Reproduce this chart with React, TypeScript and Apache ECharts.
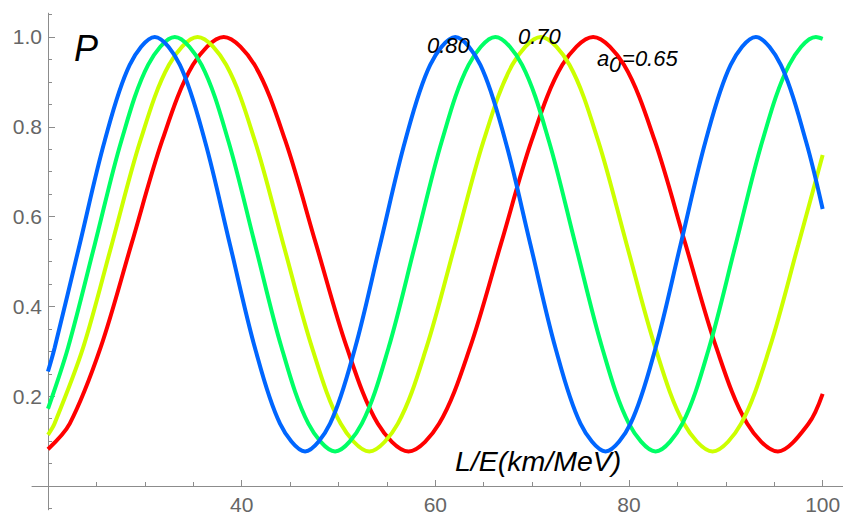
import React, { useEffect, useRef } from "react";
import * as echarts from "echarts";

// Curves at the ends (L/E = 20 and 100) and at evenly
// spaced points of each curve's own oscillation (peaks, troughs and between).

// a0 = 0.65 (red)
const xA065 = [
  20, 22.25, 25.43, 28.61, 31.79, 34.97, 38.15, 41.33, 44.51, 47.69, 50.87, 54.05,
  57.23, 60.4, 63.58, 66.76, 69.94, 73.12, 76.3, 79.48, 82.66, 85.84, 89.02, 92.2,
  95.38, 98.55, 100,
];
const pA065 = [
  0.082, 0.139, 0.308, 0.538, 0.769, 0.938, 1.0, 0.938, 0.769, 0.538, 0.308, 0.139,
  0.077, 0.139, 0.308, 0.538, 0.769, 0.938, 1.0, 0.938, 0.769, 0.538, 0.308, 0.139,
  0.077, 0.139, 0.205,
];

// a0 = 0.70 (yellow)
const xA070 = [
  20, 20.68, 23.63, 26.59, 29.54, 32.5, 35.45, 38.4, 41.36, 44.31, 47.27, 50.22,
  53.18, 56.13, 59.08, 62.04, 64.99, 67.95, 70.9, 73.85, 76.81, 79.76, 82.72, 85.67,
  88.63, 91.58, 94.53, 97.49, 100,
];
const pA070 = [
  0.114, 0.139, 0.308, 0.538, 0.769, 0.938, 1.0, 0.938, 0.769, 0.538, 0.308, 0.139,
  0.077, 0.139, 0.308, 0.538, 0.769, 0.938, 1.0, 0.938, 0.769, 0.538, 0.308, 0.139,
  0.077, 0.139, 0.308, 0.538, 0.737,
];

// a0 = 0.75 (green)
const xA075 = [
  20, 22.07, 24.83, 27.58, 30.34, 33.1, 35.86, 38.62, 41.38, 44.13, 46.89, 49.65,
  52.41, 55.17, 57.92, 60.68, 63.44, 66.2, 68.96, 71.72, 74.47, 77.23, 79.99, 82.75,
  85.51, 88.27, 91.02, 93.78, 96.54, 99.3, 100,
];
const pA075 = [
  0.172, 0.308, 0.538, 0.769, 0.938, 1.0, 0.938, 0.769, 0.538, 0.308, 0.139, 0.077,
  0.139, 0.308, 0.538, 0.769, 0.938, 1.0, 0.938, 0.769, 0.538, 0.308, 0.139, 0.077,
  0.139, 0.308, 0.538, 0.769, 0.938, 1.0, 0.996,
];

// a0 = 0.80 (blue)
const xA080 = [
  20, 20.69, 23.27, 25.86, 28.44, 31.03, 33.62, 36.2, 38.79, 41.37, 43.96, 46.55,
  49.13, 51.72, 54.3, 56.89, 59.47, 62.06, 64.65, 67.23, 69.82, 72.4, 74.99, 77.58,
  80.16, 82.75, 85.33, 87.92, 90.5, 93.09, 95.68, 98.26, 100,
];
const pA080 = [
  0.255, 0.308, 0.538, 0.769, 0.938, 1.0, 0.938, 0.769, 0.538, 0.308, 0.139, 0.077,
  0.139, 0.308, 0.538, 0.769, 0.938, 1.0, 0.938, 0.769, 0.538, 0.308, 0.139, 0.077,
  0.139, 0.308, 0.538, 0.769, 0.938, 1.0, 0.938, 0.769, 0.617,
];

const seriesNames = ["0.65", "0.70", "0.75", "0.80"];
const seriesX = [xA065, xA070, xA075, xA080];
const seriesP = [pA065, pA070, pA075, pA080];
const seriesColors = ["#ff0000", "#ccff00", "#00ff66", "#0066ff"];

const xMajorTicks = [40, 60, 80, 100];
const xMinorTicks = [25, 30, 35, 45, 50, 55, 65, 70, 75, 85, 90, 95];
const yMajorTicks = [0.2, 0.4, 0.6, 0.8, 1.0];
const yMinorTicks = [
  -0.05, 0.05, 0.1, 0.15, 0.25, 0.3, 0.35, 0.45, 0.5, 0.55, 0.65, 0.7, 0.75, 0.85,
  0.9, 0.95, 1.05,
];

const FONT = "'Liberation Sans', Arial, sans-serif";
const AXIS_COLOR = "#8c8c8c";
const LABEL_COLOR = "#666666";

const X_MIN = 18.35;
const X_MAX = 102.1;
const Y_MIN = -0.053;
const Y_MAX = 1.053;

const GRID_TOP = 13.2;
const GRID_BOTTOM = 7.2;
const GRID_H = 517 - GRID_TOP - GRID_BOTTOM;
// shift the x axis up so it crosses the y axis at P = 0
const X_AXIS_OFFSET = -(GRID_H * (0 - Y_MIN)) / (Y_MAX - Y_MIN);

export default function App() {
  const ref = useRef<HTMLDivElement>(null);

  useEffect(() => {
    if (!ref.current) return;
    const chart = echarts.init(ref.current, undefined, { renderer: "svg" });

    const baseX = {
      type: "value",
      min: X_MIN,
      max: X_MAX,
      position: "bottom",
      offset: X_AXIS_OFFSET,
      splitLine: { show: false },
    };
    const baseY = {
      type: "value",
      min: Y_MIN,
      max: Y_MAX,
      position: "left",
      offset: -16,
      splitLine: { show: false },
    };

    const option: any = {
      animation: false,
      backgroundColor: "#ffffff",
      grid: {
        left: 32,
        right: 0,
        top: GRID_TOP,
        bottom: GRID_BOTTOM,
        containLabel: false,
        outerBoundsMode: "none",
      },
      xAxis: [
        {
          ...baseX,
          axisLine: { show: true, onZero: false, lineStyle: { color: AXIS_COLOR, width: 1 } },
          axisTick: { show: true, inside: true, length: 6, customValues: xMajorTicks, lineStyle: { color: AXIS_COLOR } },
          axisLabel: {
            show: true,
            customValues: xMajorTicks,
            color: LABEL_COLOR,
            fontSize: 21,
            fontFamily: FONT,
            margin: 8,
          },
        },
        {
          ...baseX,
          axisLine: { show: false, onZero: false },
          axisTick: { show: true, inside: true, length: 4, customValues: xMinorTicks, lineStyle: { color: AXIS_COLOR } },
          axisLabel: { show: false },
        },
      ],
      yAxis: [
        {
          ...baseY,
          axisLine: { show: true, onZero: false, lineStyle: { color: AXIS_COLOR, width: 1 } },
          axisTick: { show: true, inside: true, length: 7, customValues: yMajorTicks, lineStyle: { color: AXIS_COLOR } },
          axisLabel: {
            show: true,
            customValues: yMajorTicks,
            formatter: (v: number) => v.toFixed(1),
            color: LABEL_COLOR,
            fontSize: 21,
            fontFamily: FONT,
            margin: 6,
          },
        },
        {
          ...baseY,
          axisLine: { show: false, onZero: false },
          axisTick: { show: true, inside: true, length: 4, customValues: yMinorTicks, lineStyle: { color: AXIS_COLOR } },
          axisLabel: { show: false },
        },
      ],
      series: seriesP.map((vals, i) => ({
        name: seriesNames[i],
        type: "line",
        xAxisIndex: 0,
        yAxisIndex: 0,
        data: seriesX[i].map((x, k) => [x, vals[k]]),
        smooth: 0.33,
        showSymbol: false,
        symbol: "none",
        z: 2 + i,
        lineStyle: { color: seriesColors[i], width: 4 },
        emphasis: { disabled: true },
      })),
    };

    chart.setOption(option);

    const px = (x: number, y: number) =>
      chart.convertToPixel({ xAxisIndex: 0, yAxisIndex: 0 }, [x, y]) as number[];

    const textStyle = (text: string, size: number) => ({
      text,
      fill: "#000000",
      fontSize: size,
      fontStyle: "italic",
      fontFamily: FONT,
      verticalAlign: "middle",
      align: "left",
    });

    const pPos = px(22.69, 0.974);
    const p80 = px(59.14, 0.981);
    const p70 = px(68.54, 1.0);
    const p65 = px(76.7, 0.951);
    const pLE = px(62.03, 0.0557);

    chart.setOption({
      graphic: [
        { type: "text", x: pPos[0], y: pPos[1], z: 10, style: textStyle("P", 36) },
        { type: "text", x: p80[0], y: p80[1], z: 10, style: textStyle("0.80", 22) },
        { type: "text", x: p70[0], y: p70[1], z: 10, style: textStyle("0.70", 22) },
        {
          type: "group",
          x: p65[0],
          y: p65[1],
          z: 10,
          children: [
            { type: "text", x: 0, y: 0, style: textStyle("a", 22) },
            { type: "text", x: 12, y: 6, style: textStyle("0", 22) },
            { type: "text", x: 25, y: 0, style: textStyle("=0.65", 22) },
          ],
        },
        { type: "text", x: pLE[0], y: pLE[1], z: 10, style: textStyle("L/E(km/MeV)", 28.5) },
      ],
    });

    return () => {
      chart.dispose();
    };
  }, []);

  return (
    <div
      ref={ref}
      style={{ position: "fixed", left: 0, top: 0, width: 843, height: 517, background: "#fff" }}
    />
  );
}
